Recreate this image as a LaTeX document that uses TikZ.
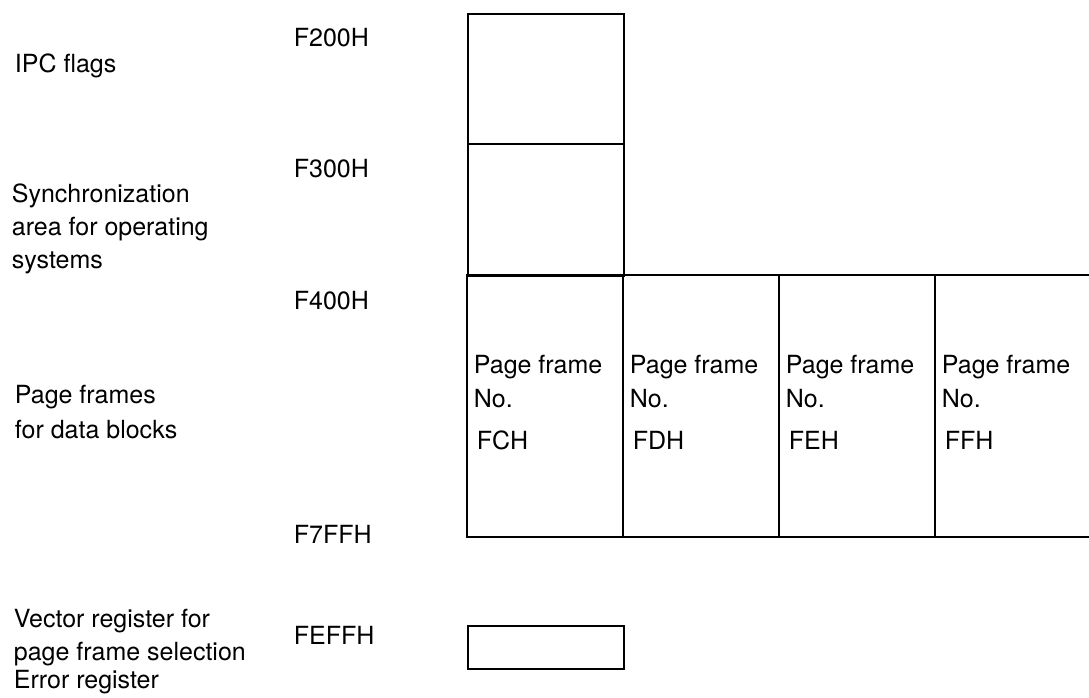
\documentclass[tikz,border=0pt]{standalone}
\usepackage{fontspec}
\setmainfont{TeX Gyre Heros}
\begin{document}
\begin{tikzpicture}[x=1pt,y=-1pt,line width=1.8pt,
  lbl/.style={anchor=base west,inner sep=0pt,font=\fontsize{25}{33}\selectfont},
  membox/.style={draw,rectangle,inner sep=0pt,minimum width=156pt,anchor=north west}]
\useasboundingbox (0,0) rectangle (1089,698);
% memory blocks
\node[membox,minimum height=130pt] (ipc) at (467,13) {};
\node[membox,minimum height=132pt] (sync) at (467,143) {};
\coordinate (rowTL) at (467,275);
\coordinate (rowTR) at (1089,275);
\coordinate (rowBL) at (467,537);
\coordinate (rowBR) at (1089,537);
\coordinate (c2t) at (623,275); \coordinate (c2b) at (623,537);
\coordinate (c3t) at (779,275); \coordinate (c3b) at (779,537);
\coordinate (c4t) at (935,275); \coordinate (c4b) at (935,537);
\draw (rowTR) -- (rowTL) -- (rowBL) -- (rowBR);
\draw (c2t) -- (c2b);
\draw (c3t) -- (c3b);
\draw (c4t) -- (c4b);
\node[membox,minimum height=43pt] (vreg) at (467,625) {};
% left descriptions
\node[lbl] (tipc) at (14,73) {IPC flags};
\node[lbl] (ts1) at (11,202) {Synchronization};
\node[lbl] (ts2) at (11,235) {area for operating};
\node[lbl] (ts3) at (11,268) {systems};
\node[lbl] (tp1) at (14,403) {Page frames};
\node[lbl] (tp2) at (14,438) {for data blocks};
\node[lbl] (tv1) at (13,627) {Vector register for};
\node[lbl] (tv2) at (13,660) {page frame selection};
\node[lbl] (tv3) at (13,688) {Error register};
% addresses
\node[lbl] (a1) at (293,47) {F200H};
\node[lbl] (a2) at (293,177) {F300H};
\node[lbl] (a3) at (293,309) {F400H};
\node[lbl] (a4) at (293,543) {F7FFH};
\node[lbl] (a5) at (293,644) {FEFFH};
% page frame cells
\foreach \i/\n in {0/FCH,1/FDH,2/FEH,3/FFH}{
  \node[lbl] (pf\i a) at (473+156*\i,373) {Page frame};
  \node[lbl] (pf\i b) at (473+156*\i,407) {No.};
  \node[lbl] (pf\i c) at (476+156*\i,449) {\n};
}
\end{tikzpicture}
\end{document}
